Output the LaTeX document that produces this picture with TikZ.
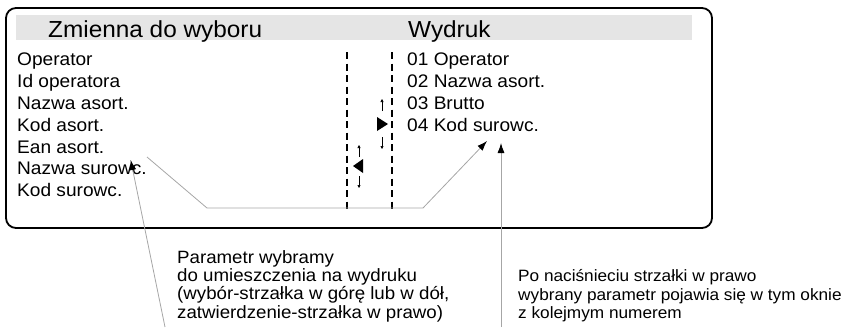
\documentclass[tikz,border=0pt]{standalone}
\usepackage{fontspec}
\setmainfont{Liberation Sans}[FakeStretch=1.05]
\usepackage{tikz}
\usetikzlibrary{arrows.meta,positioning,calc}

\tikzset{
	heading/.style={anchor=base west, inner sep=0pt, font=\fontsize{23.2}{26}\selectfont},
	item/.style={anchor=base west, inner sep=0pt, font=\fontsize{18.2}{21}\selectfont},
	note/.style={anchor=base west, inner sep=0pt, font=\fontsize{17.8}{18}\selectfont},
	lead/.style={draw=gray!70, line width=0.8pt, -{Latex[color=black,length=10pt,width=7pt]}},
	updown/.style={line width=0.6pt, -{Triangle[length=3pt,width=3pt]}},
	sep/.style={line width=1.6pt, dash pattern=on 7pt off 4.5pt}
}

\begin{document}
\begin{tikzpicture}[x=1pt,y=-1pt]
	\useasboundingbox (0,0) rectangle (848,327);
	% frame with the grey header band
	\draw[line width=1.8pt, rounded corners=10pt] (6,8) rectangle (712,228);
	\fill[gray!20] (16,15) rectangle (692,40);
	\node[heading] (hzm) at (48,37) {Zmienna do wyboru};
	\node[heading] (hwy) at (408,37) {Wydruk};
	% variables to choose from, and the printout list
	\foreach \t [count=\i] in {Operator,Id operatora,Nazwa asort.,Kod asort.,Ean asort.,Nazwa surowc.,Kod surowc.}
		\node[item] (zm\i) at (17,{44+21.8*\i}) {\t};
	\foreach \t [count=\i] in {01 Operator,02 Nazwa asort.,03 Brutto,04 Kod surowc.}
		\node[item] (wy\i) at (407,{44+21.8*\i}) {\t};
	% dashed separators
	\draw[sep] (347,52) -- (347,209);
	\draw[sep] (392,52) -- (392,209);
	% arrow keys
	\fill (377,117) -- (388,124) -- (377,131) -- cycle;
	\draw[updown] (382,111) -- (382,99);
	\draw[updown] (382,137) -- (382,149);
	\fill (363,159) -- (353,166) -- (363,173) -- cycle;
	\draw[updown] (359,157) -- (359,145);
	\draw[updown] (359,176) -- (359,188);
	% notes below the frame
	\foreach \t [count=\i] in {Parametr wybramy,do umieszczenia na wydruku,{(wybór-strzałka w górę lub w dół,},zatwierdzenie-strzałka w prawo)}
		\node[note] (na\i) at (177,{245+18.3*\i}) {\t};
	\foreach \t [count=\i] in {Po naciśnieciu strzałki w prawo,wybrany parametr pojawia się w tym oknie,z kolejmym numerem}
		\node[note, font=\fontsize{16.4}{18}\selectfont] (nb\i) at (518,{263.4+18.3*\i}) {\t};
	% leader lines
	\coordinate (pick) at (147,157);
	\coordinate (put) at (487,141);
	\coordinate (fromA) at (165,327);
	\coordinate (toA) at (130.7,160);
	\coordinate (fromB) at (501,327);
	\coordinate (toB) at (501,143);
	\draw[lead] (pick) -- (207,208) -- (423,208) -- (put);
	\draw[lead] (fromA) -- (toA);
	\draw[lead] (fromB) -- (toB);
\end{tikzpicture}
\end{document}
